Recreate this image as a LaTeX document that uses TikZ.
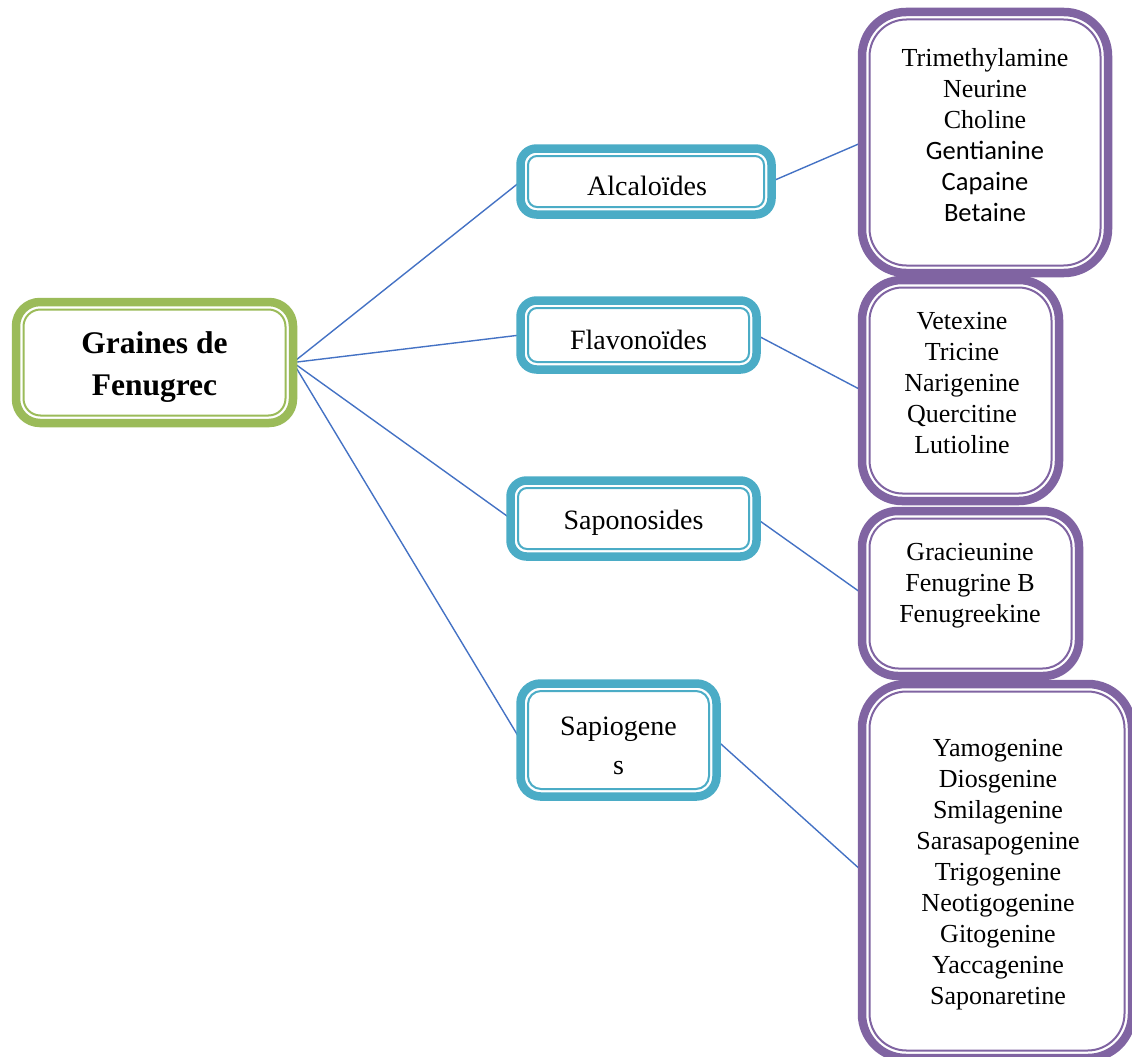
\documentclass[tikz,border=0pt]{standalone}
\usepackage{fontspec}
\setmainfont{Liberation Serif}
\newfontfamily\calfont{Carlito}
\usetikzlibrary{backgrounds}
\definecolor{grn}{HTML}{9BBB59}
\definecolor{tealb}{HTML}{4BACC6}
\definecolor{purp}{HTML}{8064A2}
\definecolor{lnk}{HTML}{4472C4}
\newcommand{\inner}[4]{%
  \draw[innerbox=#2, rounded corners=#3pt] ([shift={(#4,#4)}]#1.north west) rectangle ([shift={(-#4,-#4)}]#1.south east);}
\begin{document}
\begin{tikzpicture}[x=1pt,y=-1pt,
  outerbox/.style={draw=#1, line width=8.5pt, fill=white, inner sep=0pt, outer sep=0pt, align=center},
  innerbox/.style={draw=#1, line width=2pt},
  link/.style={draw=lnk, line width=1.4pt},
  listtxt/.style={align=center, inner sep=0pt, font=\fontsize{26}{31}\selectfont},
  labtxt/.style={align=center, inner sep=0pt, font=\fontsize{28}{39}\selectfont}
]
\useasboundingbox (0,0) rectangle (1132,1057);

% root
\node[outerbox=grn, rounded corners=24pt, minimum width=277pt, minimum height=121pt] (root) at (154.5,362.5) {};
\inner{root}{grn}{17}{7.5}
\node[align=center, inner sep=0pt, font=\bfseries\fontsize{31.5}{42}\selectfont] (rootT) at ([shift={(0,5)}]root.center) {Graines de\\Fenugrec};

% middle boxes
\node[outerbox=tealb, rounded corners=16pt, minimum width=251pt, minimum height=66pt] (alc) at (646,181.5) {};
\inner{alc}{tealb}{9}{7.5}
\node[labtxt] (alcT) at ([shift={(1,4)}]alc.center) {Alcaloïdes};
\node[outerbox=tealb, rounded corners=16pt, minimum width=236pt, minimum height=69pt] (fla) at (638.5,335) {};
\inner{fla}{tealb}{9}{7.5}
\node[labtxt] (flaT) at ([shift={(0,4.5)}]fla.center) {Flavonoïdes};
\node[outerbox=tealb, rounded corners=16pt, minimum width=246pt, minimum height=76pt] (sapo) at (633.5,518.5) {};
\inner{sapo}{tealb}{9}{7.5}
\node[labtxt] (sapoT) at ([shift={(0,4)}]sapo.center) {Saponosides};
\node[outerbox=tealb, rounded corners=20pt, minimum width=196pt, minimum height=113pt] (sapi) at (618.5,740) {};
\inner{sapi}{tealb}{13}{7.5}
\node[labtxt] (sapiT) at ([shift={(0,6)}]sapi.center) {Sapiogene\\s};

% right boxes
\node[outerbox=purp, rounded corners=44pt, minimum width=246pt, minimum height=261pt] (p1) at (985,142.5) {};
\inner{p1}{purp}{37}{7.5}
\node[listtxt] (t1) at (985,135.5) {Trimethylamine\\Neurine\\Choline\\{\calfont\fontsize{26.5}{32}\selectfont Gentianine}\\{\calfont\fontsize{26.5}{32}\selectfont Capaine}\\{\calfont\fontsize{26.5}{32}\selectfont Betaine}};

\node[outerbox=purp, rounded corners=40pt, minimum width=197pt, minimum height=221pt] (p2) at (960.5,390.5) {};
\inner{p2}{purp}{33}{7.5}
\node[listtxt] (t2) at (962,383.5) {Vetexine\\Tricine\\Narigenine\\Quercitine\\Lutioline};

\node[outerbox=purp, rounded corners=36pt, minimum width=217pt, minimum height=165pt] (p3) at (970.5,593.5) {};
\inner{p3}{purp}{29}{7.5}
\node[listtxt] (t3) at (970,585.5) {Gracieunine\\Fenugrine B\\Fenugreekine};

\node[outerbox=purp, rounded corners=44pt, minimum width=270pt, minimum height=374pt] (p4) at (997,871) {};
\inner{p4}{purp}{37}{7.5}
\node[listtxt] (t4) at (998,875) {Yamogenine\\Diosgenine\\Smilagenine\\Sarasapogenine\\Trigogenine\\Neotigogenine\\Gitogenine\\Yaccagenine\\Saponaretine};

\begin{scope}[on background layer]
\draw[link] (root.east) -- (alc.west);
\draw[link] (root.east) -- (fla.west);
\draw[link] (root.east) -- (sapo.west);
\draw[link] (root.east) -- (sapi.west);
\draw[link] (alc.east) -- (p1.west);
\draw[link] (fla.east) -- (p2.west);
\draw[link] (sapo.east) -- (p3.west);
\draw[link] (sapi.east) -- (p4.west);
\end{scope}
\end{tikzpicture}
\end{document}
